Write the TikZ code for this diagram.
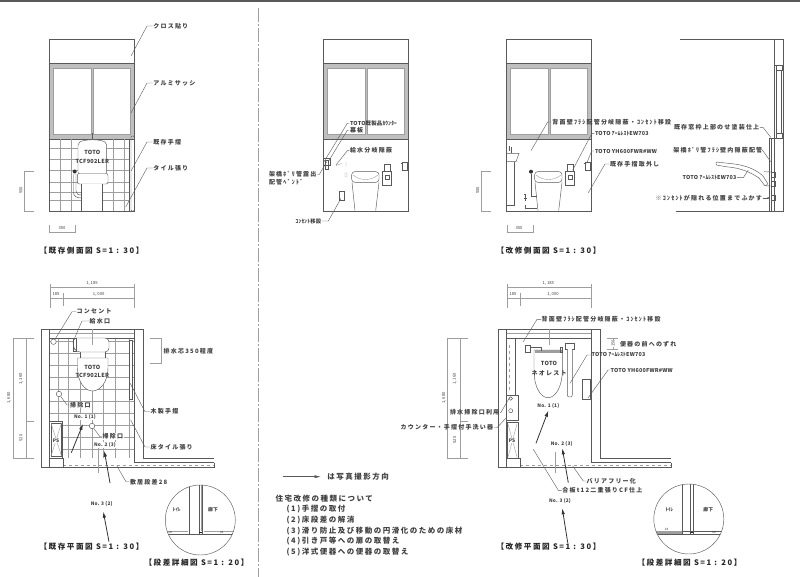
\documentclass[tikz,border=0pt]{standalone}
\usepackage{fontspec}
\usepackage{xcolor}
\usepackage{tikz}
\usetikzlibrary{arrows.meta}
\setmainfont{Noto Sans CJK JP}
\newfontfamily\jpwide[LetterSpace=20]{Noto Sans CJK JP}
\newfontfamily\jpnarrow[LetterSpace=4]{Noto Sans CJK JP}
\definecolor{inkcol}{gray}{0.25}
\definecolor{linecol}{gray}{0.35}
\definecolor{tilecol}{gray}{0.62}
\tikzset{
  lbl/.style={anchor=west,inner sep=.5pt,text=inkcol,font=\jpwide\bfseries\fontsize{6}{6}\selectfont},
  lblnar/.style={anchor=west,inner sep=.5pt,text=inkcol,font=\jpnarrow\bfseries\fontsize{5.4}{6}\selectfont},
  legendlbl/.style={anchor=west,inner sep=.5pt,text=inkcol,font=\jpwide\bfseries\fontsize{7.5}{8}\selectfont},
  titlelbl/.style={inner sep=.5pt,text=black!85,font=\jpwide\bfseries\fontsize{7.6}{8}\selectfont},
  dimlbl/.style={inner sep=0pt,text=inkcol,font=\fontsize{4.2}{5}\selectfont},
  modellbl/.style={inner sep=.5pt,text=inkcol,font=\jpnarrow\bfseries\fontsize{5.6}{6}\selectfont},
  photolbl/.style={inner sep=.5pt,text=inkcol,font=\jpnarrow\bfseries\fontsize{4.8}{6}\selectfont},
  line/.style={draw=linecol,line width=.45pt},
  dimline/.style={draw=tilecol,line width=.4pt},
  tile/.style={draw=tilecol,line width=.4pt},
  leader/.style={draw=linecol,line width=.4pt},
  photoarrow/.style={draw=black!80,line width=.8pt,-{Latex[length=6pt,width=3.5pt]}},
  pics/sashwall/.style={code={
    \draw[line] (49.5,39.5) rectangle (134.5,211);
    \draw[line,fill=black!25] (49.5,63.5) rectangle (134.5,139);
    \draw[tile,fill=white] (53,68) rectangle (91,134.5);
    \draw[tile,fill=white] (93,68) rectangle (130,134.5);
  }},
  pics/neorest/.style={code={
    \draw[line,rounded corners=3pt] (351.7,171.7) rectangle (379,182.3);
    \draw[tile] (353,175) .. controls (360,181) and (371,181) .. (378,175);
    \draw[line] (352,182.3) -- (355,210.7) (379,182.3) -- (375.7,210.7);
    \draw[line] (382.7,171.7) rectangle (391.7,185);
    \draw[line] (384.5,164) rectangle (390,171.7);
    \draw[line] (385,175) rectangle (389,179);
    \draw[line] (402.3,162.5) rectangle (407.7,170);
    \draw[line] (400.5,163) -- (402.3,163);
  }},
  pics/planwalls/.style={code={
    \draw[line,fill=white] (41.3,329.3) rectangle (49.7,467);
    \draw[line] (49.7,329.3) -- (134.3,329.3);
    \draw[tile] (49.7,333) -- (134.3,333);
    \draw[line] (49.7,338) -- (134.3,338);
    \draw[line] (134.3,329.3) -- (143.7,329.3) -- (143.7,458) -- (214,458);
    \draw[line] (134.3,329.3) -- (134.3,462.7) -- (214,462.7);
    \draw[line] (41.3,467) -- (214,467) -- (214,462.7);
    \draw[tile,dashed] (63,464.8) -- (214,464.8);
    \draw[line] (63,458) -- (63,467);
    \draw[line] (49.7,458) -- (63,458);
  }},
  pics/planwidth/.style={code={
    \draw[dimline] (49.7,286.7) -- (134.3,286.7) (49.7,297.7) -- (134.3,297.7);
    \draw[dimline] (49.7,284) -- (49.7,308) (134.3,284) -- (134.3,308) (63,293) -- (63,306);
  }},
  pics/planheight/.style={code={
    \draw[dimline] (13,338) -- (34,338) (13,458) -- (34,458) (26,421) -- (34,421);
    \draw[dimline] (13,338) -- (13,458) (26,338) -- (26,458);
  }}
}
\begin{document}
\begin{tikzpicture}[x=1pt,y=-1pt]
  \useasboundingbox (0,0) rectangle (800,577);
  % sheet edge and centre split
  \fill[black!65] (0,0) rectangle (800,1.8);
  \draw[tilecol,line width=.8pt,dash pattern=on 14pt off 2pt on 2pt off 2pt] (258,8) -- (258,577);

  % existing side view
  \pic at (0,0) {sashwall};
  \foreach \y in {148,159,170,182,192,200} \draw[tile] (49.5,\y) -- (129.5,\y);
  \foreach \x in {60,71,113,124} \draw[tile] (\x,139) -- (\x,211);
  \draw[line] (129.5,139) -- (129.5,211);
  \draw[line,rounded corners=1pt] (131,136) rectangle (134.5,211);
  \draw[line,fill=white] (92,133) -- (92,140);
  \draw[line,fill=white,rounded corners=2pt] (78,143) .. controls (85,139) and (100,139) .. (106.7,143) -- (106.7,174) -- (78,174) -- cycle;
  \draw[line,fill=white,rounded corners=2pt] (77.3,173.5) rectangle (108,184);
  \draw[line,fill=white] (81.7,184) -- (81.7,211) -- (102,211) -- (102,184);
  \fill[black!80] (74.7,171.5) circle (2pt);
  \draw[line] (73.5,174) -- (73.5,192) .. controls (73.5,196) and (76,198) .. (81.7,198);
  \draw[line] (76,174) -- (76,191) .. controls (76,194) and (78,195) .. (81.7,195);
  \node[modellbl] (toto1) at (92.3,152.7) {TOTO};
  \node[modellbl] (model1) at (92.3,161) {TCF902LER};
  \coordinate (crosstip) at (131,56); \node[lbl] (cross) at (152.7,26) {クロス貼り};
  \draw[leader] (crosstip) -- (147,26) -- (cross);
  \coordinate (sashtip) at (131,113); \node[lbl] (sash) at (152.7,83) {アルミサッシ};
  \draw[leader] (sashtip) -- (147,83) -- (sash);
  \coordinate (railtip) at (131,171); \node[lbl] (rail) at (152.7,142) {既存手摺};
  \draw[leader] (railtip) -- (147,142) -- (rail);
  \coordinate (tiletip) at (125.7,207); \node[lbl] (tilelbl) at (152.7,168) {タイル張り};
  \draw[leader] (tiletip) -- (147,168) -- (tilelbl);
  \draw[dimline] (34,171) -- (24,171) -- (24,211) -- (34,211);
  \node[dimlbl,rotate=90] (hgt1) at (21,190.5) {550};
  \draw[dimline] (49.5,225) -- (49.5,232) -- (75,232) -- (75,225);
  \node[dimlbl] (wid1) at (62,228.5) {350};
  \node[titlelbl] (title1) at (91.5,251) {【既存側面図 S=1 : 30】};

  % renovated side view, counter wall
  \pic at (273.7,0) {sashwall};
  \pic at (0,0) {neorest};
  \draw[line] (339,191.7) rectangle (344.7,200.7);
  \draw[line] (323.3,158) rectangle (330,165);
  \draw[line] (325,160) rectangle (328,169);
  \draw[tile] (336,165.5) -- (342,163.5) (346,162) -- (346,167) (345,173) rectangle (347,177);
  \coordinate (countertip) at (324,161.7); \node[lblnar] (counter) at (349.3,123.3) {TOTO既製品ｶｳﾝﾀｰ};
  \draw[leader] (countertip) -- (347.3,123.3) -- (counter);
  \coordinate (boardtip) at (328.3,161.7); \node[lbl] (board) at (349.3,130.3) {幕板};
  \draw[leader] (boardtip) -- (347.3,130.3) -- (board);
  \coordinate (watertip) at (336,165); \node[lbl] (water) at (349.3,150.7) {給水分岐隠蔽};
  \draw[leader] (watertip) -- (347.3,150.7) -- (water);
  \coordinate (pipetip) at (326.7,161.7); \node[lbl] (pipe) at (268.3,174.5) {架橋ﾎﾟﾘ管露出};
  \node[lbl] (bend) at (268.3,182) {配管ﾍﾞﾝﾄﾞ};
  \draw[leader] (pipe) -- (319.3,174.5) -- (pipetip);
  \coordinate (outlettip) at (341,198.3); \node[lblnar] (outlet) at (295,221) {ｺﾝｾﾝﾄ移設};
  \draw[leader] (outlet) -- (328.3,221) -- (outlettip);

  % renovated side view, with counter
  \pic at (457,0) {sashwall};
  \pic at (183,0) {neorest};
  \draw[line] (507,153.3) -- (519,153.3) -- (516,161.7) -- (507,161.7);
  \draw[line] (514.3,161.7) -- (514.3,205) -- (507,205);
  \draw[line] (511,153.3) -- (511,147) (509,146) -- (509,151);
  \fill[black!80] (531,171.7) circle (2pt);
  \draw[line] (531,174) -- (531,196.7) -- (537,196.7);
  \draw[line] (525,205) -- (525,208) -- (537,208);
  \draw[line] (524,194) -- (526,194) (525,194) -- (525,201) (523.5,198) -- (526.5,198);
  \coordinate (backtip) at (531,150.7); \node[lbl] (back) at (551.7,122) {背面壁ﾌﾗｼ配管分岐隠蔽・ｺﾝｾﾝﾄ移設};
  \draw[leader] (backtip) -- (547.7,122) -- (back);
  \coordinate (armtip) at (572.7,170); \node[lblnar] (arm) at (594.3,133.7) {TOTO ｱｰﾑﾚｽﾄEW703};
  \draw[leader] (armtip) -- (591.7,133.7) -- (arm);
  \coordinate (papertip) at (586.7,163.3); \node[lblnar] (paper) at (594.3,151) {TOTO YH600FWR\#WW};
  \draw[leader] (papertip) -- (591.7,151) -- (paper);
  \coordinate (offtip) at (588.3,192.7); \node[lbl] (off) at (609.3,164) {既存手摺取外し};
  \draw[leader] (offtip) -- (605,164) -- (off);
  \draw[dimline] (491,171) -- (480.7,171) -- (480.7,211) -- (491,211);
  \node[dimlbl,rotate=90] (hgt3) at (477.5,190.5) {550};
  \draw[dimline] (507,225) -- (507,232) -- (533,232) -- (533,225);
  \node[dimlbl] (wid3) at (519,228.5) {350};
  \node[titlelbl] (title3) at (548.5,251) {【改修側面図 S=1 : 30】};

  % section at the right wall
  \draw[line] (680,39) -- (783,39) -- (783,211) -- (675.7,211);
  \draw[line] (774.3,39) -- (774.3,211);
  \draw[line] (774.3,65) -- (783,65);
  \draw[line] (776.7,70) rectangle (781.7,133);
  \draw[line] (776,65) rectangle (782,70);
  \draw[line] (776,133) rectangle (782,138);
  \draw[line] (769.3,138) -- (783,138);
  \draw[line] (769.3,138) -- (769.3,211) (771,138) -- (771,211);
  \draw[line,rounded corners=1pt] (716,162) -- (730,163.5) .. controls (745,165) and (755,169) .. (763,176) -- (768,184) -- (765,186) -- (759,178) .. controls (750,172) and (740,168) .. (728,167) -- (716,165) -- cycle;
  \draw[line] (764,171.7) -- (771,172) (764,185.7) -- (771,186);
  \draw[line] (771,172) rectangle (775,177);
  \draw[line] (771,181) rectangle (775,186);
  \draw[line] (771,195) rectangle (775,200);
  \coordinate (frametip) at (770.7,137.3); \node[lbl] (frame) at (673.3,127.7) {既存窓枠上部のせ塗装仕上};
  \draw[leader] (frame) -- (763.3,127.7) -- (frametip);
  \coordinate (walltip) at (770.7,161.7); \node[lbl] (inwall) at (672.7,150) {架橋ﾎﾟﾘ管ﾌﾗｼ壁内隠蔽配管};
  \draw[leader] (inwall) -- (762.3,150) -- (walltip);
  \coordinate (armtipb) at (748.3,170); \node[lblnar] (armb) at (682,177.7) {TOTO ｱｰﾑﾚｽﾄEW703};
  \draw[leader] (armb) -- (743.3,177.7) -- (armtipb);
  \coordinate (furtip) at (770.5,198); \node[lbl] (fur) at (655,198) {※ｺﾝｾﾝﾄが隠れる位置までふかす};
  \draw[leader,-{Latex[length=3pt,width=2pt]}] (fur) -- (furtip);

  % existing plan
  \begin{scope}
    \clip (49.7,338) rectangle (134.3,458);
    \foreach \x in {58,68,80,92,103,115,129} \draw[tile] (\x,338) -- (\x,458);
    \foreach \y in {341,353,...,458} \draw[tile] (49.7,\y) -- (134.3,\y);
  \end{scope}
  \pic at (0,0) {planwalls};
  \pic at (0,0) {planwidth};
  \pic at (0,0) {planheight};
  \draw[line,fill=white] (49.7,421) rectangle (62.7,458);
  \draw[line] (51,423) rectangle (61.5,456);
  \draw[tile] (51,423) -- (61.5,456) (61.5,423) -- (51,456);
  \node[photolbl,fill=white,inner sep=.3pt] (ps1) at (56,440.5) {PS};
  \draw[line,fill=white] (80,351) rectangle (105,358);
  \draw[line,fill=white,rounded corners=4pt] (73,338) -- (109,338) -- (109,352) -- (76,352) -- (73,346) -- cycle;
  \draw[line,fill=white] (77.5,358) -- (108,358) -- (108,368) .. controls (108,382) and (100,391) .. (92.5,391) .. controls (85,391) and (77.5,382) .. (77.5,368) -- cycle;
  \draw[tile] (87,332.7) -- (96,332.7) (92,329.3) -- (92,345);
  \draw[line] (73.5,338) rectangle (76,351);
  \draw[tile] (98,443) -- (98,473);
  \draw[line,fill=white] (129.3,340.7) rectangle (132.7,399.3);
  \node[modellbl] (toto2) at (92.3,367) {TOTO};
  \node[modellbl] (model2) at (92.3,375) {TCF902LER};
  \node[line,circle,inner sep=0pt,minimum size=5.5pt,fill=white] (socket) at (53.5,341.7) {};
  \node[lbl] (socketlbl) at (76,311.7) {コンセント};
  \draw[leader] (socket) -- (72,311.7) -- (socketlbl);
  \coordinate (feedtip) at (74,339.5); \node[lbl] (feed) at (89,321) {給水口};
  \draw[leader] (feedtip) -- (82,321) -- (feed);
  \node[line,circle,inner sep=0pt,minimum size=5.5pt,fill=white] (drain1) at (59,394) {};
  \node[lbl,fill=white] (drainlbl1) at (69.5,405) {掃除口};
  \draw[leader] (drain1) -- (67,405) -- (drainlbl1);
  \node[line,circle,inner sep=0pt,minimum size=5.5pt,fill=white] (drain2) at (92,426) {};
  \node[lbl,fill=white] (drainlbl2) at (102,436.7) {掃除口};
  \draw[leader] (drain2) -- (100,436.7) -- (drainlbl2);
  \node[photolbl,fill=white] (no1a) at (85,416.7) {No. 1 (1)};
  \node[photolbl,fill=white] (no2a) at (105,445) {No. 2 (3)};
  \node[photolbl] (no3a) at (101.7,504) {No. 3 (2)};
  \coordinate (shot1a) at (71.3,452.7); \coordinate (shot2a) at (110,483); \coordinate (shot3a) at (109,541.7);
  \draw[photoarrow] (shot1a) -- (83,424);
  \draw[photoarrow] (shot2a) -- (104.3,450.7);
  \draw[photoarrow] (shot3a) -- (103.3,511.7);
  \coordinate (woodtip) at (130,383); \node[lbl] (wood) at (150,411.7) {木製手摺};
  \draw[leader] (woodtip) -- (145,411.7) -- (wood);
  \coordinate (floortip) at (130.7,420); \node[lbl] (floor) at (150,447) {床タイル張り};
  \draw[leader] (floortip) -- (145,447) -- (floor);
  \coordinate (silltip) at (116.7,465.7); \node[lbl] (sill) at (129.3,481.7) {敷居段差28};
  \draw[leader] (silltip) -- (126,481.7) -- (sill);
  \draw[dimline] (150,338) -- (161,338) -- (161,363) -- (150,363);
  \node[lbl] (drainoff) at (163,351.7) {排水芯350程度};
  \node[dimlbl] (w1185a) at (92,283) {1, 185};
  \node[dimlbl] (w1000a) at (98.7,294) {1, 000};
  \node[dimlbl] (w185a) at (56,294) {185};
  \node[dimlbl,rotate=90] (h1680a) at (9,398) {1, 680};
  \node[dimlbl,rotate=90] (h1160a) at (21,379) {1, 160};
  \node[dimlbl,rotate=90] (h520a) at (21,438) {520};
  \node[titlelbl] (title2) at (91.5,547) {【既存平面図 S=1 : 30】};

  % step detail, existing
  \begin{scope}
    \clip (200.3,520) circle (35pt);
    \draw[line] (189.3,480) -- (189.3,534.3) (199,480) -- (199,534.3) (202.7,480) -- (202.7,534.3);
    \draw[tile] (200.8,480) -- (200.8,531);
    \draw[line] (160,534.3) -- (240,534.3);
    \fill[black!85] (198.5,531.5) rectangle (201.5,533);
    \draw[tile] (165,531) -- (188,531) (204,531) -- (235,531);
  \end{scope}
  \draw[line] (200.3,520) circle (35pt);
  \node[photolbl] (toilet2) at (176.7,510) {ﾄｲﾚ};
  \node[photolbl] (hall2) at (213,510) {廊下};
  \node[dimlbl,font=\fontsize{3}{4}\selectfont] (st2a) at (170,532) {28};
  \node[dimlbl,font=\fontsize{3}{4}\selectfont] (st2b) at (221.7,532) {28};
  \node[titlelbl] (title4) at (196.5,562.5) {【段差詳細図 S=1 : 20】};

  % legend
  \coordinate (legendtail) at (283.3,476.7); \node[legendlbl] (legend) at (326.7,476.7) {は写真撮影方向};
  \draw[line,shorten >=6pt,-{Latex[length=6pt,width=3pt]}] (legendtail) -- (legend);
  \node[legendlbl] (kinds) at (275,498.3) {住宅改修の種類について};
  \node[legendlbl] (kind1) at (286,509) {(1)手摺の取付};
  \node[legendlbl] (kind2) at (286,519.7) {(2)床段差の解消};
  \node[legendlbl] (kind3) at (286,530.7) {(3)滑り防止及び移動の円滑化のための床材};
  \node[legendlbl] (kind4) at (286,541.3) {(4)引き戸等への扉の取替え};
  \node[legendlbl] (kind5) at (286,552.3) {(5)洋式便器への便器の取替え};

  % renovated plan
  \pic at (457,0) {planwalls};
  \pic at (457,0) {planwidth};
  \pic at (434.3,0) {planheight};
  \draw[tile] (544,332.7) -- (553,332.7) (549,329.3) -- (549,345);
  \draw[line] (515,338) -- (515,395);
  \draw[tile,dashed] (509,345) -- (509,392);
  \draw[line,line width=.9pt,fill=white] (506.7,395) rectangle (518.3,420.7);
  \draw[line] (510.7,410.7) circle (2pt);
  \draw[line] (510.7,398.5) circle (1.8pt);
  \draw[line,fill=white] (507,422.7) rectangle (518,458);
  \draw[tile] (508,424) -- (517,457) (517,424) -- (508,457);
  \node[photolbl,fill=white,inner sep=.3pt] (ps2) at (512,441) {PS};
  \draw[line,fill=white] (534,350) -- (562.3,350) -- (562.3,370) .. controls (562.3,388) and (555,397.7) .. (548,397.7) .. controls (541,397.7) and (534,388) .. (534,370) -- cycle;
  \fill[tilecol] (534.5,350) rectangle (562,352.5);
  \draw[line] (525,345) rectangle (530,352) (530,347) -- (541,347) -- (541,351);
  \draw[line] (560,347) rectangle (562.5,352);
  \draw[line] (565,343.3) rectangle (574,349);
  \draw[line,rounded corners=2pt,fill=white] (567.3,349) -- (567.3,397) -- (572.3,397) -- (572.3,349);
  \draw[line,fill=white] (582.7,379) rectangle (590.7,399.3);
  \draw[tile] (555.3,451.7) -- (555.3,473.3);
  \node[modellbl] (toto3) at (549,363) {TOTO};
  \node[lbl] (neorest) at (531,373) {ネオレスト};
  \coordinate (backtipb) at (523.3,341.7); \node[lbl] (backb) at (541,319.3) {背面壁ﾌﾗｼ配管分岐隠蔽・ｺﾝｾﾝﾄ移設};
  \draw[leader] (backtipb) -- (537,319.3) -- (backb);
  \draw[dimline] (607,338) -- (618.3,338) (607,349) -- (618.3,349) (612.7,338) -- (612.7,349);
  \node[dimlbl,rotate=90,fill=white] (shift) at (613,343.5) {150};
  \node[lbl] (shiftlbl) at (619.3,344) {便器の前へのずれ};
  \coordinate (armtipc) at (570,383.3); \node[lblnar] (armc) at (591,355) {TOTO ｱｰﾑﾚｽﾄEW703};
  \draw[leader] (armtipc) -- (587,355) -- (armc);
  \coordinate (papertipb) at (588,398); \node[lblnar] (paperb) at (610,370) {TOTO YH600FWR\#WW};
  \draw[leader] (papertipb) -- (608,370) -- (paperb);
  \node[photolbl] (no1b) at (548.3,406) {No. 1 (1)};
  \node[photolbl] (no2b) at (561.7,444) {No. 2 (3)};
  \node[photolbl] (no3b) at (560,501) {No. 3 (2)};
  \coordinate (shot1b) at (536,443.3); \coordinate (shot2b) at (568.3,482.7); \coordinate (shot3b) at (567.7,542.7);
  \draw[photoarrow] (shot1b) -- (548.3,410.7);
  \draw[photoarrow] (shot2b) -- (562.3,448.3);
  \draw[photoarrow] (shot3b) -- (562.3,508.3);
  \coordinate (plytip) at (533.3,449.3); \node[lbl] (ply) at (561.7,490.3) {合板t12二重張りCF仕上};
  \draw[leader] (plytip) -- (558.3,490.3) -- (ply);
  \coordinate (freetip) at (572.7,466); \node[lbl] (free) at (586,481) {バリアフリー化};
  \draw[leader] (freetip) -- (583.3,481) -- (free);
  \coordinate (cleantip) at (510,397); \node[lbl] (clean) at (449.3,412.7) {排水掃除口利用};
  \draw[leader] (clean) -- (500.7,412.7) -- (cleantip);
  \coordinate (basintip) at (507,417); \node[lbl] (basin) at (400,427.7) {カウンター・手摺付手洗い器};
  \draw[leader] (basin) -- (497,427.7) -- (basintip);
  \node[dimlbl] (w1185b) at (548.3,283) {1, 185};
  \node[dimlbl] (w1000b) at (553,294) {1, 000};
  \node[dimlbl] (w185b) at (513,294) {185};
  \node[dimlbl,rotate=90] (h1680b) at (444,398) {1, 680};
  \node[dimlbl,rotate=90] (h1160b) at (454.7,379) {1, 160};
  \node[dimlbl,rotate=90] (h520b) at (454.7,440) {520};
  \node[titlelbl] (title5) at (548.5,547) {【改修平面図 S=1 : 30】};

  % step detail, renovated
  \begin{scope}
    \clip (688.8,519) circle (35pt);
    \fill[tilecol] (650,531) rectangle (682.3,534.3);
    \draw[line] (682.3,480) -- (682.3,534.3) (690,480) -- (690,534.3) (693.3,480) -- (693.3,534.3);
    \draw[line] (650,534.3) -- (730,534.3);
    \draw[line] (682.3,531) -- (725,531);
    \fill[black!85] (690,531.5) rectangle (693,533);
  \end{scope}
  \draw[line] (688.8,519) circle (35pt);
  \node[photolbl] (toilet3) at (669.3,510) {ﾄｲﾚ};
  \node[photolbl] (hall3) at (708.3,510) {廊下};
  \node[dimlbl,font=\fontsize{3}{4}\selectfont] (st3a) at (666.5,529) {28};
  \node[dimlbl,font=\fontsize{3}{4}\selectfont] (st3b) at (714,532.5) {28};
  \node[titlelbl] (title6) at (689.5,562.5) {【段差詳細図 S=1 : 20】};
\end{tikzpicture}
\end{document}
